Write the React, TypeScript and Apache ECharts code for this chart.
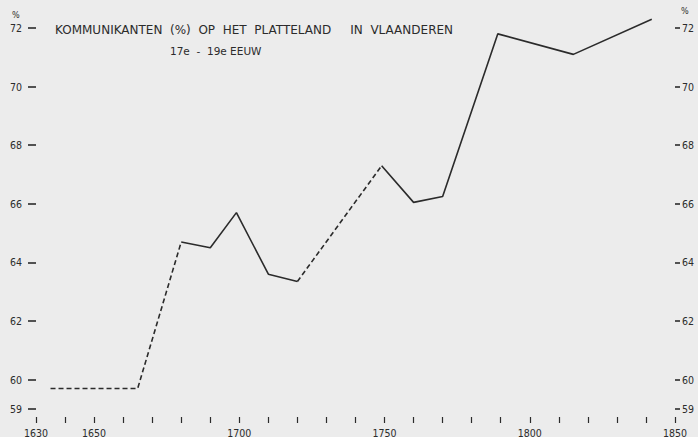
import React, { useEffect, useRef } from "react";
import * as echarts from "echarts";

// Data
const years = [1635, 1665, 1680, 1690, 1699, 1710, 1720, 1749, 1760, 1770, 1789, 1815, 1842];
const values = [59.7, 59.7, 64.7, 64.5, 65.7, 63.6, 63.35, 67.3, 66.05, 66.25, 71.8, 71.1, 72.3];
// style of each segment between consecutive points
const segmentStyles = ["dashed", "dashed", "solid", "solid", "solid", "solid", "dashed", "solid", "solid", "solid", "solid", "solid"];
const yTickValues = [59, 60, 62, 64, 66, 68, 70, 72];
const xLabelYears = [1630, 1650, 1700, 1750, 1800, 1850];
const titleText = "KOMMUNIKANTEN\u00a0\u00a0(%)\u00a0\u00a0OP\u00a0\u00a0HET\u00a0\u00a0PLATTELAND\u00a0\u00a0\u00a0\u00a0\u00a0IN\u00a0\u00a0VLAANDEREN";
const subText = "17e\u00a0\u00a0-\u00a0\u00a019e\u00a0EEUW";
const unitLabel = "%";

const INK = "#2b2b2b";
const FONT = "'DejaVu Sans Condensed', 'Liberation Sans Narrow', 'DejaVu Sans', sans-serif";

function buildSeries() {
  const groups: { style: string; pts: number[][] }[] = [];
  for (let i = 0; i < segmentStyles.length; i++) {
    const st = segmentStyles[i];
    const last = groups[groups.length - 1];
    if (last && last.style === st) {
      last.pts.push([years[i + 1], values[i + 1]]);
    } else {
      groups.push({ style: st, pts: [[years[i], values[i]], [years[i + 1], values[i + 1]]] });
    }
  }
  return groups.map((g) => ({
    type: "line",
    data: g.pts,
    showSymbol: false,
    clip: false,
    silent: true,
    lineStyle: {
      color: INK,
      width: 1.6,
      type: g.style === "dashed" ? [5, 3] : "solid",
    },
  }));
}

export default function App() {
  const ref = useRef<HTMLDivElement>(null);
  useEffect(() => {
    if (!ref.current) return;
    const chart = echarts.init(ref.current, undefined, { renderer: "svg" });
    const yAxisCommon = {
      type: "value",
      min: 59,
      max: 72,
      interval: 1,
      splitLine: { show: false },
      axisLine: { show: false },
    };
    chart.setOption({
      animation: false,
      backgroundColor: "#ececec",
      grid: { left: 36, right: 23, top: 28, bottom: 28, containLabel: false, outerBoundsMode: "none" },
      title: [
        {
          text: titleText,
          left: 55,
          top: 24,
          padding: 0,
          textStyle: { fontFamily: "'DejaVu Sans', sans-serif", fontSize: 12, fontWeight: "normal", color: INK },
        },
        {
          text: subText,
          left: 170,
          top: 45,
          padding: 0,
          textStyle: { fontFamily: "'DejaVu Sans', sans-serif", fontSize: 10.5, fontWeight: "normal", color: INK },
        },
      ],
      xAxis: {
        type: "value",
        min: 1630,
        max: 1850,
        interval: 10,
        offset: 8,
        splitLine: { show: false },
        axisLine: { show: false },
        axisTick: { show: true, length: 6, lineStyle: { color: INK, width: 1.2 } },
        axisLabel: {
          customValues: xLabelYears,
          formatter: (v: number) => String(v),
          margin: 10,
          fontSize: 10.5,
          fontFamily: FONT,
          color: INK,
        },
      },
      yAxis: [
        {
          ...yAxisCommon,
          position: "left",
          axisTick: { show: true, length: 8, customValues: yTickValues, lineStyle: { color: INK, width: 1.6 } },
          axisLabel: { customValues: yTickValues, margin: 14, fontSize: 10.5, fontFamily: FONT, color: INK },
        },
        {
          ...yAxisCommon,
          position: "right",
          axisTick: { show: true, length: 5, customValues: yTickValues, lineStyle: { color: INK, width: 1.6 } },
          axisLabel: { customValues: yTickValues, margin: 7, fontSize: 10.5, fontFamily: FONT, color: INK },
        },
      ],
      graphic: [
        { type: "text", left: 12, top: 10, style: { text: unitLabel, fontSize: 9, fontFamily: FONT, fill: INK } },
        { type: "text", left: 681, top: 6, style: { text: unitLabel, fontSize: 9, fontFamily: FONT, fill: INK } },
      ],
      series: buildSeries(),
    });
    return () => chart.dispose();
  }, []);
  return <div ref={ref} style={{ position: "fixed", left: 0, top: 0, width: 698, height: 437 }} />;
}
